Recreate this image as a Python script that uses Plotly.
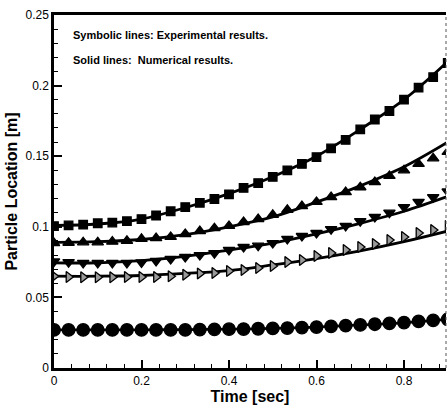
import plotly.graph_objects as go

# ---- data ----
t_exp = [k / 30 for k in range(28)]
t_num = [0.0, 0.1, 0.2, 0.3, 0.4, 0.5, 0.6, 0.7, 0.8, 0.9]

exp_square = [0.1005, 0.101, 0.1015, 0.1025, 0.103, 0.104, 0.1055, 0.108, 0.111, 0.114,
              0.117, 0.1197, 0.123, 0.1275, 0.131, 0.1353, 0.140, 0.1445, 0.1494, 0.1555,
              0.1615, 0.169, 0.176, 0.182, 0.190, 0.1985, 0.206, 0.216]
exp_up = [0.0885, 0.0887, 0.089, 0.089, 0.0895, 0.090, 0.0914, 0.092, 0.0928, 0.0949,
          0.097, 0.099, 0.1006, 0.1034, 0.1055, 0.1085, 0.112, 0.1147, 0.1176, 0.121,
          0.1246, 0.128, 0.1317, 0.136, 0.140, 0.1445, 0.1485, 0.153]
exp_down = [0.0755, 0.075, 0.0745, 0.0745, 0.0745, 0.0745, 0.0748, 0.0758, 0.0772, 0.0786,
            0.080, 0.0814, 0.0836, 0.0857, 0.0866, 0.0885, 0.0914, 0.0935, 0.0956, 0.0984,
            0.1006, 0.104, 0.107, 0.110, 0.114, 0.1176, 0.121, 0.125]
exp_right = [0.065, 0.0645, 0.0643, 0.0643, 0.0643, 0.0644, 0.0644, 0.0645, 0.065, 0.066,
             0.067, 0.0673, 0.0687, 0.0694, 0.0708, 0.0722, 0.075, 0.0765, 0.0793, 0.0814,
             0.0836, 0.0857, 0.0878, 0.0906, 0.0928, 0.0956, 0.0977, 0.1005]
exp_circle = [0.027, 0.027, 0.027, 0.027, 0.027, 0.027, 0.027, 0.027, 0.027, 0.027,
              0.0272, 0.0273, 0.0275, 0.0276, 0.0278, 0.028, 0.0283, 0.0286, 0.029, 0.0295,
              0.030, 0.0305, 0.031, 0.0316, 0.0322, 0.033, 0.0337, 0.0345]

num_square = [0.101, 0.102, 0.1055, 0.1135, 0.1235, 0.1355, 0.150, 0.169, 0.190, 0.217]
num_up = [0.089, 0.0895, 0.091, 0.0945, 0.100, 0.107, 0.1175, 0.129, 0.1425, 0.160]
num_down = [0.0745, 0.0745, 0.076, 0.079, 0.0835, 0.0885, 0.095, 0.1025, 0.111, 0.1215]
num_right = [0.065, 0.065, 0.0655, 0.067, 0.069, 0.073, 0.0775, 0.083, 0.0895, 0.097]
num_circle = [0.027, 0.027, 0.027, 0.0272, 0.0275, 0.028, 0.029, 0.0305, 0.032, 0.0345]

x_ticks = [0, 0.2, 0.4, 0.6, 0.8]
y_ticks = [0, 0.05, 0.1, 0.15, 0.2, 0.25]

FONT = "Liberation Sans, Arial, sans-serif"

fig = go.Figure()

for y in [num_square, num_up, num_down, num_right, num_circle]:
    fig.add_trace(go.Scatter(x=t_num, y=y, mode="lines", line=dict(color="black", width=2.8, shape="spline"),
                             showlegend=False, hoverinfo="skip"))

exp_sets = [
    (exp_square, "square", 8.5, "black"),
    (exp_up, "triangle-up", 10, "black"),
    (exp_down, "triangle-down", 10, "black"),
    (exp_right, "triangle-right", 9.5, "#9a9a9a"),
    (exp_circle, "circle", 12.5, "black"),
]
for y, sym, sz, col in exp_sets:
    fig.add_trace(go.Scatter(x=t_exp, y=y, mode="markers",
                             marker=dict(symbol=sym, size=sz, color=col,
                                         line=dict(color="black", width=1.3)),
                             showlegend=False))

fig.add_annotation(text="<b>Symbolic lines: Experimental results.</b>", xref="paper", yref="paper",
                   x=0.044, y=0.943, xanchor="left", yanchor="middle", showarrow=False,
                   font=dict(family=FONT, size=11, color="black"))
fig.add_annotation(text="<b>Solid lines:  Numerical results.</b>", xref="paper", yref="paper",
                   x=0.044, y=0.873, xanchor="left", yanchor="middle", showarrow=False,
                   font=dict(family=FONT, size=11, color="black"))

# right border (thin dotted)
fig.add_shape(type="line", xref="paper", yref="paper", x0=1, x1=1, y0=0, y1=1,
              line=dict(color="#555", width=1, dash="dot"))

fig.update_layout(
    width=447, height=409,
    margin=dict(l=54, r=1, t=15, b=41),
    paper_bgcolor="white", plot_bgcolor="white",
    font=dict(family=FONT, color="black", size=12),
    xaxis=dict(range=[0, 0.896], tickvals=x_ticks, ticktext=[str(v) for v in x_ticks],
               ticks="inside", ticklen=8, tickwidth=2, tickcolor="black",
               minor=dict(ticks="inside", ticklen=4, tickwidth=1, dtick=0.04, tick0=0, tickcolor="black"),
               showline=True, linewidth=2.5, linecolor="black", mirror=True,
               showgrid=False, zeroline=False,
               tickfont=dict(size=12, family=FONT),
               title=dict(text="<b>Time [sec]</b>", font=dict(size=16, family=FONT), standoff=2)),
    yaxis=dict(range=[0, 0.25], tickvals=y_ticks, ticktext=["0", "0.05", "0.1", "0.15", "0.2", "0.25"],
               ticks="inside", ticklen=8, tickwidth=2, tickcolor="black",
               minor=dict(ticks="inside", ticklen=4, tickwidth=1, dtick=0.01, tick0=0, tickcolor="black"),
               showline=True, linewidth=2.5, linecolor="black", mirror=False,
               showgrid=False, zeroline=False,
               tickfont=dict(size=12, family=FONT),
               title=dict(text="<b>Particle Location [m]</b>", font=dict(size=16, family=FONT), standoff=4)),
)

fig.write_html("out.html")
